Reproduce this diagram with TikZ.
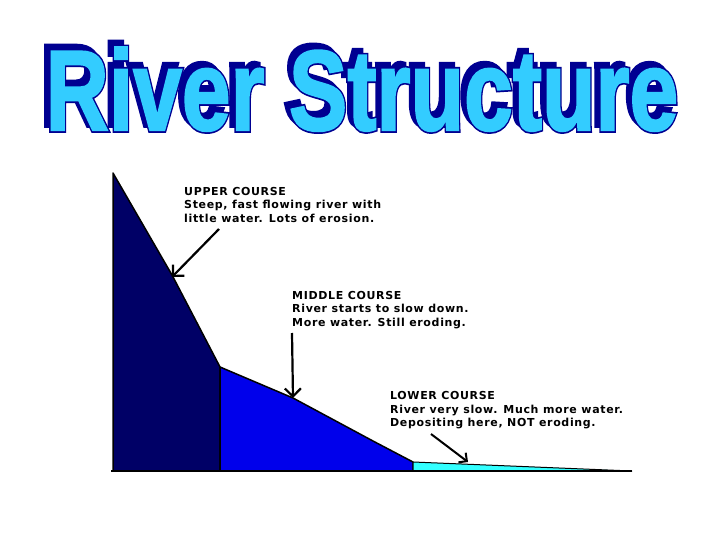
\documentclass[tikz,border=0pt]{standalone}
\usepackage{fontspec}
\usepackage{xcolor}
\usetikzlibrary{arrows.meta}
\newfontfamily\notefont{DejaVu Sans}[LetterSpace=6]
\newfontfamily\titlefont{Liberation Sans}[BoldFeatures={FakeBold=2}]
\newfontfamily\titlerimfont{Liberation Sans}[BoldFeatures={FakeBold=5}]
\definecolor{uppercol}{RGB}{0,0,102}
\definecolor{middlecol}{RGB}{0,0,235}
\definecolor{lowercol}{RGB}{51,255,255}
\definecolor{titlefill}{RGB}{51,204,255}
\definecolor{titleedge}{RGB}{0,0,145}

\begin{document}
\begin{tikzpicture}[x=1pt,y=-1pt,
    note/.style={anchor=north west,inner sep=0pt,align=left,
      font=\notefont\bfseries\fontsize{11}{13.5}\selectfont},
    titletext/.style={anchor=base,inner sep=0pt,xscale=1.46,yscale=1.9},
    pointer/.style={line width=2.2pt,-{Straight Barb[length=8pt,width=16pt]}}]
    \useasboundingbox (0,0) rectangle (720,540);
    \fill[white] (0,0) rectangle (720,540);

    \node (shadow) [titletext,titleedge,font=\titlerimfont\bfseries\fontsize{60}{60}\selectfont] at (357,125) {River Structure};
    \node (rim) [titletext,titleedge,font=\titlerimfont\bfseries\fontsize{60}{60}\selectfont] at (362,130) {River Structure};
    \node (title) [titletext,titlefill,font=\titlefont\bfseries\fontsize{60}{60}\selectfont] at (362,130) {River Structure};

    \filldraw[fill=uppercol,line width=1.5pt,line join=round] (113,173) -- (172,275) -- (220,367)
      -- (220,471) -- (113,471) -- cycle;
    \filldraw[fill=middlecol,line width=1.5pt,line join=round] (220,367) -- (293,398) -- (373,441)
      -- (413,462) -- (413,471) -- (220,471) -- cycle;
    \filldraw[fill=lowercol,line width=1pt] (413,462) -- (632,471) -- (413,471) -- cycle;
    \draw[line width=2.6pt] (111,471) -- (632,471);

    \node (upper) [note] at (184,187) {UPPER COURSE\\Steep, fast flowing river with\\little water. Lots of erosion.};
    \node (middle) [note] at (292,291) {MIDDLE COURSE\\River starts to slow down.\\More water. Still eroding.};
    \node (lower) [note] at (390,391.5) {LOWER COURSE\\River very slow. Much more water.\\Depositing here, NOT eroding.};

    \coordinate (upperfrom) at (219,229);
    \coordinate (upperto) at (172,277);
    \coordinate (middlefrom) at (292,333);
    \coordinate (middleto) at (293,398);
    \coordinate (lowerfrom) at (431,434);
    \coordinate (lowerto) at (468,462);

    \draw[pointer] (upperfrom) -- (upperto);
    \draw[pointer] (middlefrom) -- (middleto);
    \draw[pointer,line width=2pt,-{Straight Barb[length=6pt,width=12pt]}] (lowerfrom) -- (lowerto);
\end{tikzpicture}
\end{document}
